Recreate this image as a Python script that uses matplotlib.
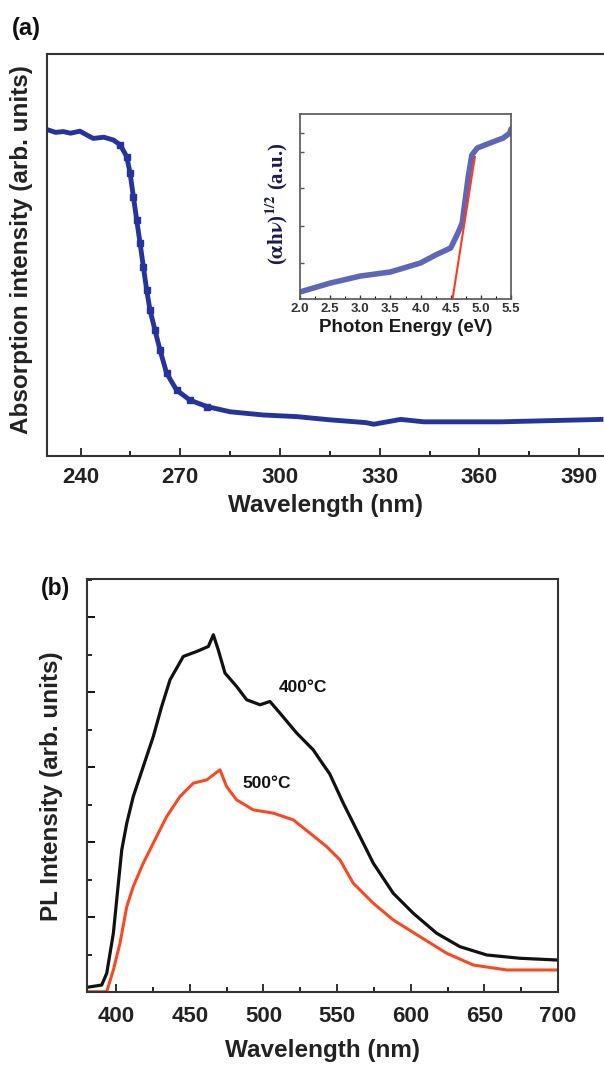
import numpy as np
import matplotlib
matplotlib.use('Agg')
import matplotlib.pyplot as plt
from matplotlib.ticker import MultipleLocator, FixedLocator, FormatStrFormatter

plt.rcParams['font.family'] = ['Liberation Sans', 'DejaVu Sans']
plt.rcParams['font.weight'] = 'bold'
plt.rcParams['axes.labelweight'] = 'bold'
plt.rcParams['mathtext.fontset'] = 'stix'

# (a) absorption spectrum
abs_wl = [230.3, 232.5, 234.8, 237.0, 239.8, 243.8, 247.0, 249.9, 251.9, 253.9, 254.9,
          255.9, 256.9, 257.9, 258.9, 259.9, 260.9, 262.4, 263.9, 265.9, 268.9, 272.9,
          278.0, 285.0, 295.0, 305.0, 315.0, 325.9, 328.2, 336.3, 343.3, 366.5, 396.6]
abs_int = [0.811, 0.805, 0.807, 0.803, 0.808, 0.790, 0.793, 0.786, 0.774, 0.745, 0.704,
           0.645, 0.587, 0.530, 0.471, 0.413, 0.363, 0.313, 0.264, 0.206, 0.164, 0.139,
           0.123, 0.110, 0.102, 0.098, 0.090, 0.083, 0.079, 0.091, 0.085, 0.085, 0.091]

# inset: Tauc plot
tauc_e = [2.0, 2.5, 3.0, 3.5, 4.0, 4.25, 4.5, 4.62, 4.69, 4.74, 4.79, 4.85, 4.94, 5.15, 5.37, 5.48, 5.5]
tauc_y = [0.038, 0.086, 0.124, 0.146, 0.195, 0.238, 0.276, 0.357, 0.411, 0.535, 0.659,
          0.778, 0.816, 0.843, 0.870, 0.897, 0.919]
fit_e = [4.53, 4.90]
fit_y = [0.0, 0.768]

# (b) PL spectra
pl_wl_400 = [380.4, 390.2, 393.6, 398.1, 401.5, 403.8, 407.2, 411.6, 418.4, 425.2, 430.9,
             436.6, 445.6, 454.7, 462.6, 466.0, 469.3, 473.9, 481.8, 488.6, 497.7, 504.4,
             511.2, 522.6, 533.8, 538.4, 545.0, 554.2, 561.0, 574.6, 588.1, 601.7, 617.6,
             633.4, 651.6, 674.2, 699.1]
pl_400 = [0.063, 0.093, 0.250, 0.784, 1.451, 1.896, 2.252, 2.607, 3.008, 3.408, 3.809,
          4.166, 4.477, 4.543, 4.610, 4.766, 4.566, 4.255, 4.076, 3.899, 3.832, 3.876,
          3.721, 3.454, 3.231, 3.097, 2.910, 2.519, 2.252, 1.718, 1.318, 1.051, 0.784,
          0.605, 0.494, 0.450, 0.427]
pl_wl_500 = [380.4, 393.6, 398.1, 402.6, 407.2, 411.6, 418.4, 425.2, 434.3, 443.3, 452.4,
             461.5, 470.5, 475.0, 481.8, 493.1, 506.7, 520.3, 531.6, 542.9, 552.0, 561.0,
             574.6, 588.1, 606.3, 624.4, 642.5, 665.1, 699.1]
pl_500 = [0.004, 0.004, 0.294, 0.650, 1.139, 1.406, 1.718, 1.985, 2.340, 2.607, 2.786,
          2.830, 2.964, 2.741, 2.563, 2.430, 2.386, 2.296, 2.119, 1.940, 1.762, 1.451,
          1.184, 0.962, 0.738, 0.517, 0.360, 0.294, 0.294]

W, H = 604, 1066
fig = plt.figure(figsize=(W / 100, H / 100), dpi=100)


def box(l, t, r, b):
    return [l / W, 1 - b / H, (r - l) / W, (b - t) / H]


# ---- panel (a)
ax0 = fig.add_axes(box(47.3, 54, 604, 456))
ax0.plot(abs_wl, abs_int, color='#24349c', lw=3.5, marker='s', ms=5, mec='#24349c',
         markevery=list(range(8, 23)))
ax0.set_xlim(230, 397.5)
ax0.set_ylim(0, 1.0)
ax0.xaxis.set_major_locator(MultipleLocator(30))
ax0.xaxis.set_minor_locator(MultipleLocator(15))
ax0.set_yticks([])
ax0.spines['right'].set_visible(False)
for s in ['top', 'left', 'bottom']:
    ax0.spines[s].set_color('#333333')
    ax0.spines[s].set_linewidth(1.5)
ax0.tick_params(axis='x', which='major', direction='in', length=6, width=1.3, pad=8,
                labelsize=16, colors='#222222')
ax0.tick_params(axis='x', which='minor', direction='in', length=3.5, width=1.2)
ax0.set_xlabel('Wavelength (nm)', fontsize=17.5, labelpad=4, color='#222222')
fig.text(22 / W, 1 - 250 / H, 'Absorption intensity (arb. units)', rotation=90,
         ha='center', va='center', fontsize=17.5, color='#222222')
fig.text(26 / W, 1 - 28 / H, '(a)', ha='center', va='center', fontsize=17, color='#111111')

# inset
ins = fig.add_axes(box(300, 114, 511, 299))
ins.plot(tauc_e, tauc_y, color='#4a58b0', lw=4, alpha=0.9, solid_capstyle='round')
ins.plot(fit_e, fit_y, color='#ff3b1f', lw=1.5)
ins.set_xlim(2.0, 5.5)
ins.set_ylim(0, 1.0)
ins.xaxis.set_major_locator(MultipleLocator(0.5))
ins.xaxis.set_minor_locator(MultipleLocator(0.25))
ins.xaxis.set_major_formatter(FormatStrFormatter('%.1f'))
ins.yaxis.set_major_locator(FixedLocator([0.195, 0.395, 0.6, 0.795, 0.897]))
ins.set_yticklabels([])
for s in ins.spines.values():
    s.set_color('#555555')
    s.set_linewidth(1.2)
ins.tick_params(axis='x', which='major', direction='in', length=3, width=1, pad=3,
                labelsize=9.5, colors='#333333')
ins.tick_params(axis='x', which='minor', direction='in', length=2, width=0.8)
ins.tick_params(axis='y', direction='in', length=3, width=1, colors='#555555')
ins.set_xlabel('Photon Energy (eV)', fontsize=13.5, labelpad=3, color='#1a1a1a')
fig.text(276.7 / W, 1 - 204 / H, r'($\mathbf{\alpha}$h$\mathbf{\nu}$)$^{\mathbf{1/2}}$ (a.u.)',
         rotation=90, ha='center', va='center', fontsize=15,
         family='Liberation Serif', color='#1a1a50')

# ---- panel (b)
ax1 = fig.add_axes(box(86.7, 579, 558, 992))
ax1.plot(pl_wl_400, pl_400, color='#111111', lw=2.3)
ax1.plot(pl_wl_500, pl_500, color='#f84a22', lw=2.2)
ax1.set_xlim(380, 700)
ax1.set_ylim(0, 5.51)
ax1.xaxis.set_major_locator(MultipleLocator(50))
ax1.xaxis.set_minor_locator(MultipleLocator(25))
ax1.yaxis.set_major_locator(MultipleLocator(1))
ax1.yaxis.set_minor_locator(MultipleLocator(0.5))
ax1.set_yticklabels([])
for s in ax1.spines.values():
    s.set_color('#333333')
    s.set_linewidth(1.5)
ax1.tick_params(axis='both', which='major', direction='in', length=6, width=1.3,
                right=False, top=False)
ax1.tick_params(axis='both', which='minor', direction='in', length=3.5, width=1.2,
                right=False, top=False)
ax1.tick_params(axis='x', which='major', pad=10, labelsize=16, colors='#222222')
ax1.set_xlabel('Wavelength (nm)', fontsize=17.5, labelpad=9, color='#222222')
fig.text(51.7 / W, 1 - 786 / H, 'PL Intensity (arb. units)', rotation=90,
         ha='center', va='center', fontsize=17.5, color='#222222')
fig.text(55.5 / W, 1 - 588 / H, '(b)', ha='center', va='center', fontsize=16.5, color='#111111')
ax1.annotate('400\u00b0C', xy=(279 / W, 1 - 687 / H), xycoords='figure fraction',
             ha='left', va='center', fontsize=12.5, color='#111111')
ax1.annotate('500\u00b0C', xy=(242.3 / W, 1 - 783 / H), xycoords='figure fraction',
             ha='left', va='center', fontsize=12.5, color='#111111')

fig.savefig('out.png', dpi=100)
